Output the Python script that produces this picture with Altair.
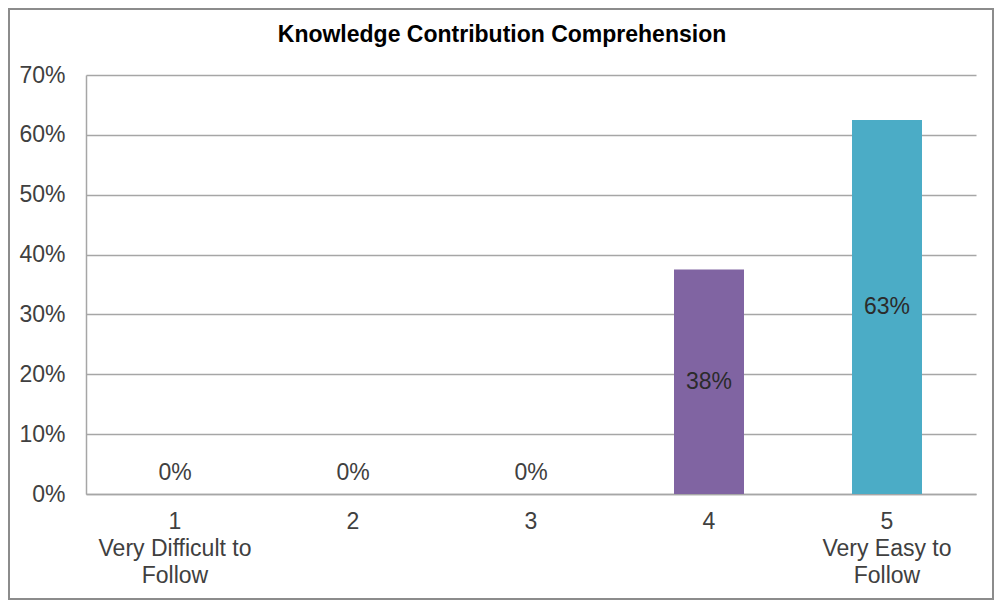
import altair as alt
import pandas as pd

categories = ["1", "2", "3", "4", "5"]
values = [0.0, 0.0, 0.0, 0.375, 0.625]
bar_colors = ["#8064A2", "#8064A2", "#8064A2", "#8064A2", "#4BACC6"]
sub_labels = [["Very Difficult to", "Follow"], [], [], [], ["Very Easy to", "Follow"]]
title_text = ["Knowledge  Contribution Comprehension"]
y_ticks = [0, 0.1, 0.2, 0.3, 0.4, 0.5, 0.6, 0.7]

df = pd.DataFrame({"cat": categories, "value": values, "color": bar_colors})

# build label expression for multi-line x labels
parts = []
for c, s in zip(categories, sub_labels):
    if s:
        arr = "[" + ",".join("'" + t + "'" for t in [c] + s) + "]"
        parts.append(f"datum.value == '{c}' ? {arr} : ")
label_expr = "".join(parts) + "datum.value"

FONT = "Liberation Sans"
FS = 23
W, H = 890, 419

x_enc = alt.X("cat:N", sort=categories,
              scale=alt.Scale(paddingInner=0, paddingOuter=0),
              axis=alt.Axis(title=None, labelAngle=0, ticks=False, labelPadding=16,
                            labelExpr=label_expr, labelLineHeight=27,
                            labelFont=FONT, labelFontSize=FS, labelColor="#404040",
                            domainColor="#a6a6a6", domainWidth=1.5, grid=False))
y_scale = alt.Scale(domain=[0, 0.7], nice=False)

base = alt.Chart(df)

bars = base.mark_bar(size=70).encode(
    x=x_enc,
    y=alt.Y("value:Q", scale=y_scale,
            axis=alt.Axis(title=None, format=".0%", values=y_ticks, ticks=False,
                          labelPadding=21, labelFont=FONT, labelFontSize=FS,
                          labelColor="#404040", domainColor="#a6a6a6", domainWidth=1.5,
                          gridColor="#a6a6a6", gridWidth=1.5)),
    color=alt.Color("color:N", scale=None),
)

labels_pos = base.transform_filter("datum.value > 0").transform_calculate(
    mid="datum.value / 2").mark_text(
    font=FONT, fontSize=FS, color="#2b2b2b", baseline="middle").encode(
    x=alt.X("cat:N", sort=categories),
    y=alt.Y("mid:Q", scale=y_scale),
    text=alt.Text("value:Q", format=".0%"),
)

labels_zero = base.transform_filter("datum.value == 0").mark_text(
    font=FONT, fontSize=FS, color="#404040", baseline="middle", dy=-21).encode(
    x=alt.X("cat:N", sort=categories),
    y=alt.Y("value:Q", scale=y_scale),
    text=alt.Text("value:Q", format=".0%"),
)

title = alt.Chart(pd.DataFrame({"t": title_text})).mark_text(
    font=FONT, fontSize=23, fontWeight="bold", color="#000000",
    align="center", baseline="alphabetic").encode(
    x=alt.value(W / 2 - 29), y=alt.value(-33), text="t:N",
)

border = alt.Chart(pd.DataFrame({"a": [0]})).mark_rect(
    fill=None, stroke="#8c8c8c", strokeWidth=2).encode(
    x=alt.value(-77), x2=alt.value(W + 17),
    y=alt.value(-66), y2=alt.value(H + 105),
)

chart = alt.layer(bars, labels_pos, labels_zero, title, border).properties(
    width=W, height=H,
    autosize=alt.AutoSizeParams(type="none"),
    padding={"left": 78, "top": 67, "right": 18, "bottom": 106},
).configure_view(stroke=None)

chart.save("out.html", embed_options={"renderer": "svg", "actions": False})
